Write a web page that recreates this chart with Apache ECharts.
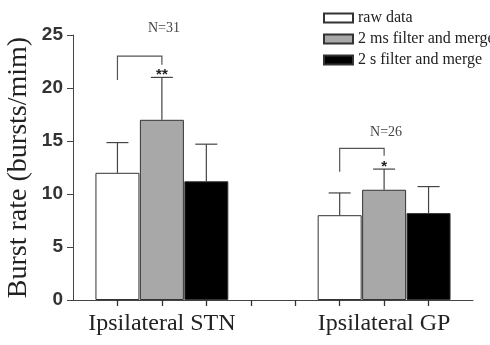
<!DOCTYPE html>
<html><head><meta charset="utf-8">
<script src="https://cdn.jsdelivr.net/npm/echarts@6/dist/echarts.min.js"></script>
<style>html,body{margin:0;padding:0;background:#fff}#c{width:490px;height:345px}</style>
</head><body><div id="c"></div>
<script>
// ---- data ----
const groups = ['Ipsilateral STN', 'Ipsilateral GP'];
const seriesNames = ['raw data', '2 ms filter and merge', '2 s filter and merge'];
const rawMean = [12.0, 8.0];
const rawSD = [2.85, 2.1];
const ms2Mean = [17.0, 10.4];
const ms2SD = [4.0, 1.95];
const s2Mean = [11.2, 8.2];
const s2SD = [3.5, 2.5];
const nLabels = ['N=31', 'N=26'];
const nLabelY = [25.6, 15.85];
const sigLabels = ['**', '*'];
// bracket: [top, left bottom, right bottom]
const bracketTop = [23.0, 14.3];
const bracketLeftBottom = [20.75, 12.1];
const bracketRightBottom = [22.2, 13.6];
const yTicks = [0, 5, 10, 15, 20, 25];

// ---- build slots: 10 category slots, groups centered at slot 2 and 7 ----
const SLOTS = 10;
const categories = new Array(SLOTS).fill('');
groups.forEach((g, i) => { categories[2 + 5 * i] = g; });
const means = [rawMean, ms2Mean, s2Mean];
const sds = [rawSD, ms2SD, s2SD];
function slotOf(g, s) { return 1 + 5 * g + s; }
const barData = means.map((m, s) => {
  const arr = new Array(SLOTS).fill(null);
  m.forEach((v, g) => { arr[slotOf(g, s)] = v; });
  return arr;
});
const errData = [];
means.forEach((m, s) => m.forEach((v, g) => errData.push([slotOf(g, s), v, sds[s][g]])));
const bracketData = groups.map((g, i) => [slotOf(i, 0), slotOf(i, 1), bracketTop[i], bracketLeftBottom[i], bracketRightBottom[i]]);
const sigData = groups.map((g, i) => [slotOf(i, 1), means[1][i] + sds[1][i], sigLabels[i]]);
const nData = groups.map((g, i) => [2 + 5 * i, nLabelY[i], nLabels[i]]);

const colors = ['#ffffff', '#a8a8a8', '#000000'];
const serif = '"Liberation Serif", "Times New Roman", serif';
const sans = '"Liberation Sans", Arial, sans-serif';

const chart = echarts.init(document.getElementById('c'));
chart.setOption({
  animation: false,
  backgroundColor: '#fff',
  grid: { left: 73, right: 17, top: 35, bottom: 45, containLabel: false, outerBoundsMode: 'none' },
  legend: {
    orient: 'vertical', left: 318, top: 5,
    icon: 'rect',
    itemWidth: 29, itemHeight: 9, itemGap: 5,
    data: seriesNames,
    textStyle: { fontFamily: serif, fontSize: 16, color: '#222' }
  },
  xAxis: {
    type: 'category', data: categories, boundaryGap: false,
    axisLine: { lineStyle: { color: '#444', width: 1 } },
    axisTick: { show: true, interval: (i) => i > 0 && i < SLOTS - 1, length: 6, lineStyle: { color: '#333', width: 1.3 } },
    axisLabel: { interval: 0, margin: 12, fontFamily: serif, fontSize: 24, color: '#222' }
  },
  yAxis: {
    type: 'value', min: 0, max: 25, interval: 5,
    name: 'Burst rate (bursts/mim)', nameLocation: 'middle', nameGap: 40, nameMoveOverlap: false,
    nameTextStyle: { fontFamily: serif, fontSize: 28, color: '#222' },
    axisLine: { show: true, lineStyle: { color: '#444', width: 1 } },
    axisTick: { show: true, length: 6, lineStyle: { color: '#444' } },
    axisLabel: { margin: 10, fontFamily: sans, fontSize: 19, fontWeight: 'bold', color: '#333' },
    splitLine: { show: false }
  },
  series: [
    ...seriesNames.map((n, s) => ({
      type: 'bar', name: n, data: barData[s], barWidth: 44, barGap: '-100%',
      itemStyle: { color: colors[s], borderColor: '#333', borderWidth: 1 }
    })),
    {
      type: 'custom', name: 'err', data: errData, z: 1, silent: true,
      renderItem: (params, api) => {
        const x = api.value(0), m = api.value(1), sd = api.value(2);
        const base = api.coord([x, m]);
        const top = api.coord([x, m + sd]);
        const hw = 11;
        return { type: 'group', children: [
          { type: 'line', shape: { x1: base[0], y1: base[1], x2: top[0], y2: top[1] }, style: { stroke: '#444', lineWidth: 1.2 } },
          { type: 'line', shape: { x1: top[0] - hw, y1: top[1], x2: top[0] + hw, y2: top[1] }, style: { stroke: '#444', lineWidth: 1.2 } }
        ]};
      }
    },
    {
      type: 'custom', name: 'bracket', data: bracketData, silent: true,
      renderItem: (params, api) => {
        const xl = api.value(0), xr = api.value(1), t = api.value(2), lb = api.value(3), rb = api.value(4);
        const p1 = api.coord([xl, lb]), p2 = api.coord([xl, t]), p3 = api.coord([xr, t]), p4 = api.coord([xr, rb]);
        return { type: 'polyline', shape: { points: [p1, p2, p3, p4] }, style: { stroke: '#555', lineWidth: 1.2, fill: null } };
      }
    },
    {
      type: 'custom', name: 'sig', data: sigData, silent: true,
      renderItem: (params, api) => {
        const p = api.coord([api.value(0), api.value(1)]);
        return { type: 'text', x: p[0], y: p[1] + 5, style: { text: sigData[params.dataIndex][2], fill: '#222', font: 'bold 15px ' + sans, align: 'center', verticalAlign: 'bottom' } };
      }
    },
    {
      type: 'custom', name: 'n', data: nData, silent: true,
      renderItem: (params, api) => {
        const p = api.coord([api.value(0), api.value(1)]);
        return { type: 'text', x: p[0] + 2, y: p[1], style: { text: nData[params.dataIndex][2], fill: '#444', font: '14px ' + serif, align: 'center', verticalAlign: 'middle' } };
      }
    }
  ]
});
</script></body></html>
